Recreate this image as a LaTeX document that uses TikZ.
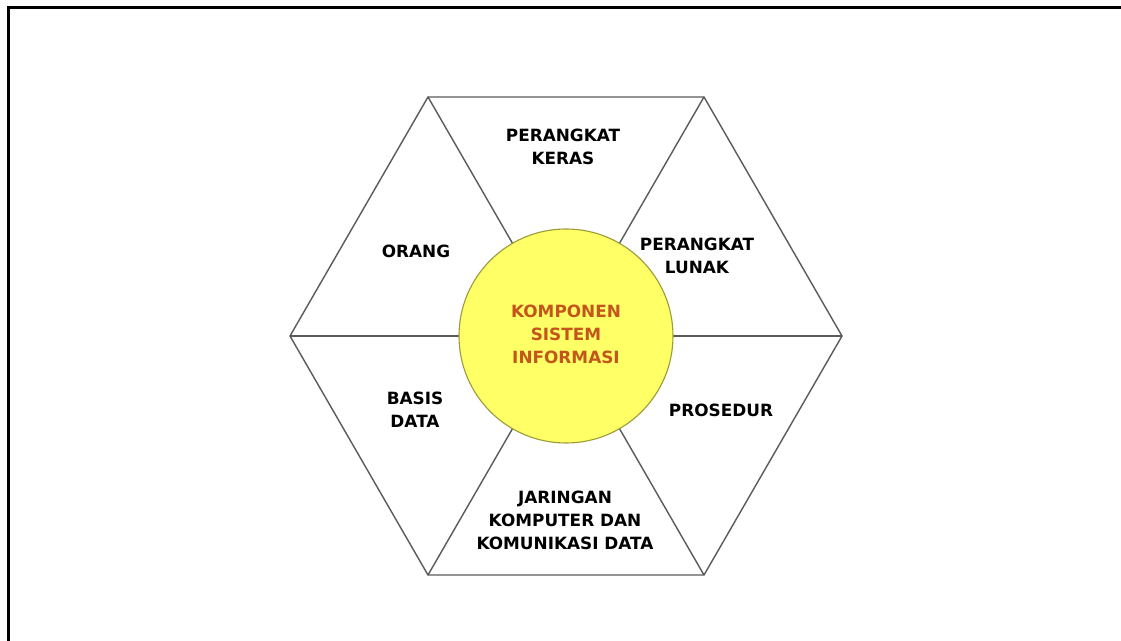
\documentclass[tikz,border=0pt]{standalone}
\usepackage{fontspec}
\newfontfamily\labelfont{DejaVu Sans}
\usetikzlibrary{positioning}

\definecolor{hexline}{HTML}{5A5A5A}
\definecolor{sunfill}{HTML}{FFFF66}
\definecolor{sunline}{HTML}{9C9C3A}
\definecolor{coretext}{HTML}{C4561C}

\begin{document}
\begin{tikzpicture}[
    % Estilo para las etiquetas de cada componente
    comp/.style={align=center, font=\labelfont\bfseries\fontsize{12}{16.3}\selectfont, text=black},
    % Estilo para el circulo central
    core/.style={circle, draw=sunline, fill=sunfill, line width=0.8pt, minimum size=5.35cm},
    % Estilo para las lineas del hexagono
    hex/.style={hexline, line width=1pt}
]
    \useasboundingbox (-14.15,-7.625) rectangle (13.875,8.4);

    % Marco (solo arriba e izquierda)
    \draw[line width=1.8pt] (-13.9375,-7.625) -- (-13.9375,8.2125) -- (13.875,8.2125);

    % Vertices del hexagono
    \coordinate (o) at (0,0);
    \foreach \i in {0,...,5}
        \coordinate (v\i) at (60*\i:6.9);

    % Hexagono y radios
    \draw[hex, line join=miter] (v0) -- (v1) -- (v2) -- (v3) -- (v4) -- (v5) -- cycle;
    \foreach \i in {0,...,5}
        \draw[hex] (o) -- (v\i);

    % Circulo central
    \node[core] (sistem) at (o) {};
    \node[comp, text=coretext] at (0,0.05) {KOMPONEN\\SISTEM\\INFORMASI};

    % Componentes
    \node[comp] (keras) at (-0.075,4.725) {PERANGKAT\\KERAS};
    \node[comp] (orang) at (-3.75,2.125) {ORANG};
    \node[comp] (lunak) at (3.275,2.0) {PERANGKAT\\LUNAK};
    \node[comp] (basis) at (-3.775,-1.85) {BASIS\\DATA};
    \node[comp] (prosedur) at (3.875,-1.85) {PROSEDUR};
    \node[comp] (jaringan) at (-0.025,-4.6) {JARINGAN\\KOMPUTER DAN\\KOMUNIKASI DATA};

\end{tikzpicture}
\end{document}
